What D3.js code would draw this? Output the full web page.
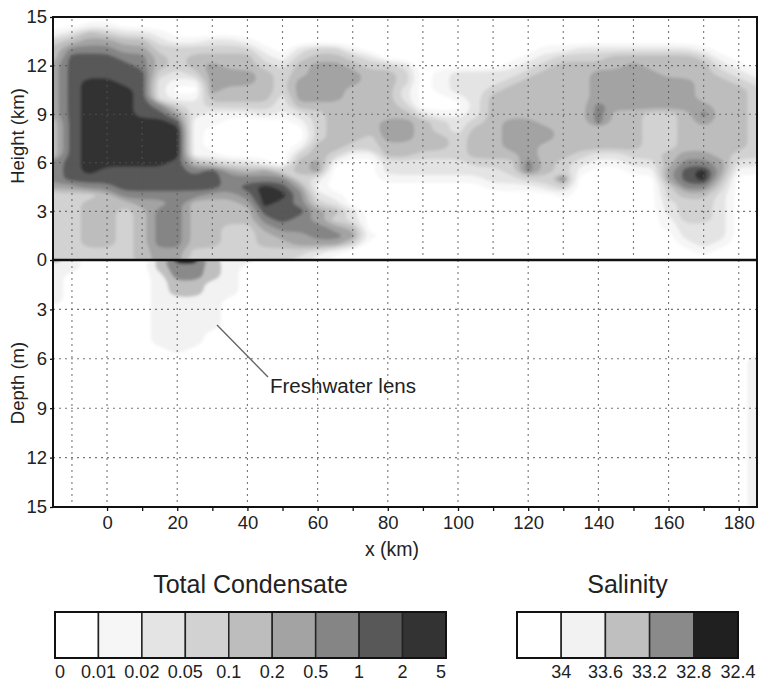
<!DOCTYPE html>
<html>
<head>
<meta charset="utf-8">
<script src="https://cdn.jsdelivr.net/npm/d3@7"></script>
<style>
  body { margin: 0; background: #fff; }
  text { font-family: "Liberation Sans", Arial, sans-serif; fill: #222; }
</style>
</head>
<body>
<svg id="chart" width="764" height="684"></svg>
<script>
// grid positions (km) of the field columns
const gridX = [-15,-10,-5,0,5,10,15,20,25,30,35,40,45,50,55,60,65,70,75,80,85,90,95,100,
               105,110,115,120,125,130,135,140,145,150,155,160,165,170,175,180,185];
// heights (km) of the cloud rows, top to bottom
const heightRows = [15,14.5,14,13.5,13,12.5,12,11.5,11,10.5,10,9.5,9,8.5,8,7.5,7,6.5,6,5.5,5,4.5,4,3.5,3,2.5,2,1.5,1,0.5,0];
// depths (m) of the ocean rows, top to bottom
const depthRows = [0,0.5,1,1.5,2,2.5,3,3.5,4,4.5,5,5.5,6,6.5,7,7.5,8,8.5,9,9.5,10,10.5,11,11.5,12,12.5,13,13.5,14,14.5,15];

// condensate class (0..8) per column, read top (15 km) to bottom (0 km)
const condCols = [
  "0013445555555444446665333333333", // -15
  "0024677777777777777775333333333", // -10
  "0145677788888888888876344444433", // -5
  "0135677788888888888776444444433", // 0
  "0024567778888888888777643333333", // 5
  "0024566777777888888777654444444", // 10
  "0012344322267888888777656666655", // 15
  "0001333210135788887777666666655", // 20
  "0001344310122111114677644444433", // 25
  "0002345555431100013777544444433", // 30
  "0002344554431000002566544433333", // 35
  "0001344554431000002467654433333", // 40
  "0000123444432000001568887654433", // 45
  "0000012333221000000367877765433", // 50
  "0000234455542100134435667665532", // 55
  "0000345555543333445521235566521", // 60
  "0000345555544444431000124356510", // 65
  "0000134554444444310000002245300", // 70
  "0000023444444443310000000001000", // 75
  "0000003444444555442210000000000", // 80
  "0000002332234555442210000000000", // 85
  "0000000000002444432210000000000", // 90
  "0000000111001334432210000000000", // 95
  "0000000222101223332210000000000", // 100
  "0000000222222344443210000000000", // 105
  "0000000223444444443221000000000", // 110
  "0000001234444555543321000000000", // 115
  "0000012344444555556631000000000", // 120
  "0000123444444455444432000000000", // 125
  "0000134444444444443363100000000", // 130
  "0000234444444444432100000000000", // 135
  "0000234555566644421000000000000", // 140
  "0000244555554444421000000000000", // 145
  "0000245555554444432100000000000", // 150
  "0000244555553333332100000000000", // 155
  "0000244455553333344553322110000", // 160
  "0000244455554444456776433322100", // 165
  "0000134444456544456886433322210", // 170
  "0000012344444444445543222222100", // 175
  "0000001234444444432100000000000", // 180
  "0000000123333333332100000000000"  // 185
];

// salinity class (0..4) per column, read from 0 m down to 15 m
const salCols = [
  "2111110000000000000000000000000", // -15
  "1100000000000000000000000000000", // -10
  "0000000000000000000000000000000", // -5
  "0000000000000000000000000000000", // 0
  "0000000000000000000000000000000", // 5
  "0000000000000000000000000000000", // 10
  "2211111111100000000000000000000", // 15
  "4332211111110000000000000000000", // 20
  "4332211111100000000000000000000", // 25
  "2221111110000000000000000000000", // 30
  "1111100000000000000000000000000", // 35
  "1000000000000000000000000000000", // 40
  "0000000000000000000000000000000", // 45
  "0000000000000000000000000000000", // 50
  "0000000000000000000000000000000", // 55
  "0000000000000000000000000000000", // 60
  "0000000000000000000000000000000", // 65
  "0000000000000000000000000000000", // 70
  "0000000000000000000000000000000", // 75
  "0000000000000000000000000000000", // 80
  "0000000000000000000000000000000", // 85
  "0000000000000000000000000000000", // 90
  "0000000000000000000000000000000", // 95
  "0000000000000000000000000000000", // 100
  "0000000000000000000000000000000", // 105
  "0000000000000000000000000000000", // 110
  "0000000000000000000000000000000", // 115
  "0000000000000000000000000000000", // 120
  "0000000000000000000000000000000", // 125
  "0000000000000000000000000000000", // 130
  "0000000000000000000000000000000", // 135
  "0000000000000000000000000000000", // 140
  "0000000000000000000000000000000", // 145
  "0000000000000000000000000000000", // 150
  "0000000000000000000000000000000", // 155
  "0000000000000000000000000000000", // 160
  "0000000000000000000000000000000", // 165
  "0000000000000000000000000000000", // 170
  "0000000000000000000000000000000", // 175
  "0000000000000000000000000000000", // 180
  "0000000000001111111111111111111"  // 185
];

const condColors = ["#ffffff","#f6f6f6","#e4e4e4","#d2d2d2","#bdbdbd","#a3a3a3","#858585","#585858","#333333"];
const condLabels = ["0","0.01","0.02","0.05","0.1","0.2","0.5","1","2","5"];
const salColors = ["#ffffff","#f2f2f2","#bfbfbf","#8a8a8a","#202020"];
const salLabels = ["34","33.6","33.2","32.8","32.4"];

const xTicks = [0,10,20,30,40,50,60,70,80,90,100,110,120,130,140,150,160,170,180];
const upTicks = [0,3,6,9,12,15];
const downTicks = [3,6,9,12,15];
const gridUpX = [-10,0,10,20,30,40,50,60,70,80,90,100,110,120,130,140,150,160,170,180];
const gridDownX = [-10,0,20,40,60,80,100,120,140,160,180];
const gridLevels = [3,6,9,12];

//--------------------------------------------------------------
const svg = d3.select("#chart");
const plot = {left: 53, right: 757, top: 17, mid: 260, bottom: 507};

const x = d3.scaleLinear().domain([-15.4, 185.2]).range([plot.left, plot.right]);
const yUp = d3.scaleLinear().domain([0, 15]).range([plot.mid, plot.top]);
const yDown = d3.scaleLinear().domain([0, 15]).range([plot.mid, plot.bottom]);

const defs = svg.append("defs");
defs.append("clipPath").attr("id", "clipUp").append("rect")
  .attr("x", plot.left).attr("y", plot.top)
  .attr("width", plot.right - plot.left).attr("height", plot.mid - plot.top);
defs.append("clipPath").attr("id", "clipDown").append("rect")
  .attr("x", plot.left).attr("y", plot.mid)
  .attr("width", plot.right - plot.left).attr("height", plot.bottom - plot.mid);
defs.append("filter").attr("id", "soft")
  .append("feGaussianBlur").attr("stdDeviation", 1.7);

function gridValues(cols, m) {
  const n = cols.length;
  const v = new Array(n * m);
  for (let i = 0; i < n; i++) {
    if (cols[i].length !== m) throw new Error("column " + i + " has length " + cols[i].length);
    for (let j = 0; j < m; j++) v[j * n + i] = +cols[i][j];
  }
  return v;
}

function drawField(clipId, cols, rows, yScale, colors) {
  const n = gridX.length, m = rows.length;
  const vals = gridValues(cols, m);
  // grid coords -> pixels (value i sits at i+0.5 in contour space)
  const gx = d3.scaleLinear().domain([0.5, n - 0.5]).range([x(gridX[0]), x(gridX[n - 1])]);
  const gy = d3.scaleLinear().domain([0.5, m - 0.5]).range([yScale(rows[0]), yScale(rows[m - 1])]);
  const thresholds = colors.slice(1).map((c, k) => k + 0.5);
  const contours = d3.contours().size([n, m]).thresholds(thresholds)(vals);
  const ring = d3.line()
    .x(p => gx(p[0]))
    .y(p => gy(p[1]))
    .curve(d3.curveBasisClosed);

  const outer = svg.append("g").attr("clip-path", "url(#" + clipId + ")");
  const g = outer.append("g").attr("filter", "url(#soft)");
  g.selectAll("path")
    .data(contours)
    .enter()
    .append("path")
    .attr("d", c => c.coordinates.map(poly => poly.map(r => ring(r.slice(0, -1))).join("")).join(""))
    .attr("fill", (c, k) => colors[k + 1])
    .attr("fill-rule", "evenodd");
}

drawField("clipUp", condCols, heightRows, yUp, condColors);
drawField("clipDown", salCols, depthRows, yDown, salColors);

// dotted grid
const grid = svg.append("g").attr("stroke", "#555").attr("stroke-width", 1.1)
  .attr("stroke-dasharray", "2,4").attr("opacity", 0.8);
grid.selectAll(".vu").data(gridUpX).enter().append("line")
  .attr("x1", d => x(d)).attr("x2", d => x(d))
  .attr("y1", plot.top + 2).attr("y2", plot.mid);
grid.selectAll(".vd").data(gridDownX).enter().append("line")
  .attr("x1", d => x(d)).attr("x2", d => x(d))
  .attr("y1", plot.mid).attr("y2", plot.bottom);
grid.selectAll(".hu").data(gridLevels).enter().append("line")
  .attr("x1", plot.left).attr("x2", plot.right)
  .attr("y1", d => yUp(d)).attr("y2", d => yUp(d));
grid.selectAll(".hd").data(gridLevels).enter().append("line")
  .attr("x1", plot.left).attr("x2", plot.right)
  .attr("y1", d => yDown(d)).attr("y2", d => yDown(d));

// frame and zero line
svg.append("rect")
  .attr("x", plot.left).attr("y", plot.top)
  .attr("width", plot.right - plot.left).attr("height", plot.bottom - plot.top)
  .attr("fill", "none").attr("stroke", "#111").attr("stroke-width", 2);
svg.append("line")
  .attr("x1", plot.left).attr("x2", plot.right)
  .attr("y1", yUp(0)).attr("y2", yUp(0))
  .attr("stroke", "#111").attr("stroke-width", 2.5);

// axes
const xAxis = d3.axisBottom(x).tickValues(xTicks).tickSize(4).tickPadding(5)
  .tickFormat(d => d % 20 === 0 ? d : "");
const xAxisEl = svg.append("g").attr("transform", `translate(0, ${plot.bottom})`).call(xAxis);
const yAxisUp = svg.append("g").attr("transform", `translate(${plot.left}, 0)`)
  .call(d3.axisLeft(yUp).tickValues(upTicks).tickSize(3).tickPadding(3));
const yAxisDown = svg.append("g").attr("transform", `translate(${plot.left}, 0)`)
  .call(d3.axisLeft(yDown).tickValues(downTicks).tickSize(3).tickPadding(3));
[xAxisEl, yAxisUp, yAxisDown].forEach(a => {
  a.select(".domain").remove();
  a.selectAll("line").attr("stroke", "#111").attr("stroke-width", 1.3);
  a.selectAll("text").attr("font-size", 18.5).attr("fill", "#222")
    .attr("font-family", "'Liberation Sans', Arial, sans-serif");
});

svg.append("text")
  .attr("transform", "translate(23.5,136) rotate(-90)")
  .attr("text-anchor", "middle").attr("font-size", 18.5)
  .text("Height (km)");
svg.append("text")
  .attr("transform", "translate(23.5,383) rotate(-90)")
  .attr("text-anchor", "middle").attr("font-size", 18.5)
  .text("Depth (m)");
svg.append("text")
  .attr("x", 392).attr("y", 556)
  .attr("text-anchor", "middle").attr("font-size", 19.5)
  .text("x (km)");

// annotation
svg.append("line")
  .attr("x1", 217).attr("y1", 325).attr("x2", 268).attr("y2", 377)
  .attr("stroke", "#666").attr("stroke-width", 1.4);
svg.append("text")
  .attr("x", 270).attr("y", 392.5).attr("font-size", 19.5)
  .attr("textLength", 146).attr("lengthAdjust", "spacingAndGlyphs")
  .text("Freshwater lens");

// legends
function legend(title, colors, labels, x0, x1, labelOffset) {
  const n = colors.length;
  const lx = d3.scaleLinear().domain([0, n]).range([x0, x1]);
  const g = svg.append("g");
  g.append("text")
    .attr("x", (x0 + x1) / 2).attr("y", 593)
    .attr("text-anchor", "middle").attr("font-size", 25)
    .text(title);
  g.selectAll("rect")
    .data(colors)
    .enter()
    .append("rect")
    .attr("x", (d, i) => lx(i))
    .attr("y", 612)
    .attr("width", lx(1) - lx(0))
    .attr("height", 46)
    .attr("fill", d => d)
    .attr("stroke", "#222")
    .attr("stroke-width", 1.5);
  g.append("rect")
    .attr("x", x0).attr("y", 612).attr("width", x1 - x0).attr("height", 46)
    .attr("fill", "none").attr("stroke", "#111").attr("stroke-width", 2);
  g.selectAll(".lab")
    .data(labels)
    .enter()
    .append("text")
    .attr("x", (d, i) => lx(i + labelOffset))
    .attr("y", 678)
    .attr("font-size", 18)
    .attr("text-anchor", (d, i) => labelOffset === 0 && i === 0 ? "start"
      : (labelOffset === 0 && i === labels.length - 1 ? "end" : "middle"))
    .text(d => d);
}

legend("Total Condensate", condColors, condLabels, 55, 446, 0);
legend("Salinity", salColors, salLabels, 517, 738, 1);
</script>
</body>
</html>
